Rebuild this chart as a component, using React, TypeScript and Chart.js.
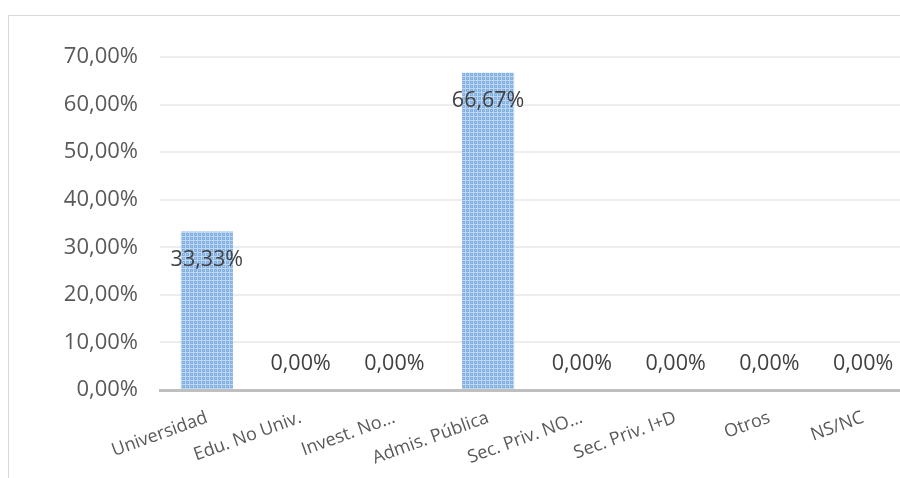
import React, { useEffect, useRef } from "react";
import { Chart, registerables } from "chart.js";

Chart.register(...registerables);

const categories = [
  "Universidad",
  "Edu. No Univ.",
  "Invest. No…",
  "Admis. Pública",
  "Sec. Priv. NO…",
  "Sec. Priv. I+D",
  "Otros",
  "NS/NC",
];
const values = [33.33, 0, 0, 66.67, 0, 0, 0, 0];
const yTickValues = [0, 10, 20, 30, 40, 50, 60, 70];

const fmt = (v: number) => v.toFixed(2).replace(".", ",") + "%";

function makePattern(ctx: CanvasRenderingContext2D) {
  const c = document.createElement("canvas");
  c.width = 4;
  c.height = 4;
  const p = c.getContext("2d")!;
  p.fillStyle = "#80AFE2";
  p.fillRect(0, 0, 4, 4);
  p.fillStyle = "#BFD7F2";
  p.fillRect(0, 0, 4, 1);
  p.fillRect(0, 0, 1, 4);
  p.fillStyle = "#A9C9EE";
  p.fillRect(2, 2, 1, 1);
  return ctx.createPattern(c, "repeat") as CanvasPattern;
}

const labelPlugin = {
  id: "barLabels",
  afterDatasetsDraw(chart: any) {
    const ctx = chart.ctx;
    const meta = chart.getDatasetMeta(0);
    ctx.save();
    ctx.font = "21.5px 'Open Sans'";
    ctx.fillStyle = "#404040";
    ctx.textAlign = "center";
    ctx.textBaseline = "middle";
    meta.data.forEach((bar: any, i: number) => {
      const v = values[i];
      const y = v > 0 ? bar.y + 28 : bar.base - 26;
      ctx.fillText(fmt(v), bar.x, y);
    });
    ctx.restore();
  },
};

export default function App() {
  const ref = useRef<HTMLCanvasElement>(null);
  useEffect(() => {
    const canvas = ref.current!;
    const ctx = canvas.getContext("2d")!;
    const pattern = makePattern(ctx);
    const chart = new Chart(canvas, {
      type: "bar",
      data: {
        labels: categories,
        datasets: [
          {
            data: values,
            backgroundColor: pattern as any,
            borderWidth: 0,
            categoryPercentage: 1,
            barPercentage: 0.555,
          },
        ],
      },
      options: {
        responsive: false,
        animation: false,
        devicePixelRatio: 1,
        layout: { padding: { top: 41, left: 0, right: 19, bottom: 0 } },
        plugins: {
          legend: { display: false },
          tooltip: { enabled: false },
        },
        scales: {
          y: {
            min: 0,
            max: 70,
            afterFit: (s: any) => {
              s.width = 151;
            },
            afterBuildTicks: (s: any) => {
              s.ticks = yTickValues.map((v) => ({ value: v }));
            },
            ticks: {
              padding: 22,
              color: "#595959",
              font: { family: "'Open Sans'", size: 22 },
              callback: (v: any) => fmt(Number(v)),
            },
            grid: { color: "#EDEDED", lineWidth: 2, drawTicks: false },
            border: { display: false },
          },
          x: {
            afterFit: (s: any) => {
              s.height = 86;
            },
            ticks: {
              minRotation: 20,
              maxRotation: 20,
              autoSkip: false,
              padding: 17,
              color: "#595959",
              font: { family: "'Open Sans'", size: 18 },
            },
            grid: { display: false, drawTicks: false },
            border: { display: true, color: "#BFBFBF", width: 3 },
          },
        },
      },
      plugins: [labelPlugin],
    });
    return () => chart.destroy();
  }, []);

  return (
    <div
      style={{
        position: "fixed",
        left: 0,
        top: 0,
        width: 900,
        height: 478,
        overflow: "hidden",
        background: "#fff",
      }}
    >
      <div
        style={{
          position: "absolute",
          left: 8,
          top: 15,
          width: 940,
          height: 520,
          border: "1.5px solid #D9D9D9",
          background: "#fff",
        }}
      >
        <canvas
          ref={ref}
          width={920}
          height={460}
          style={{ display: "block", width: 920, height: 460 }}
        />
      </div>
    </div>
  );
}
